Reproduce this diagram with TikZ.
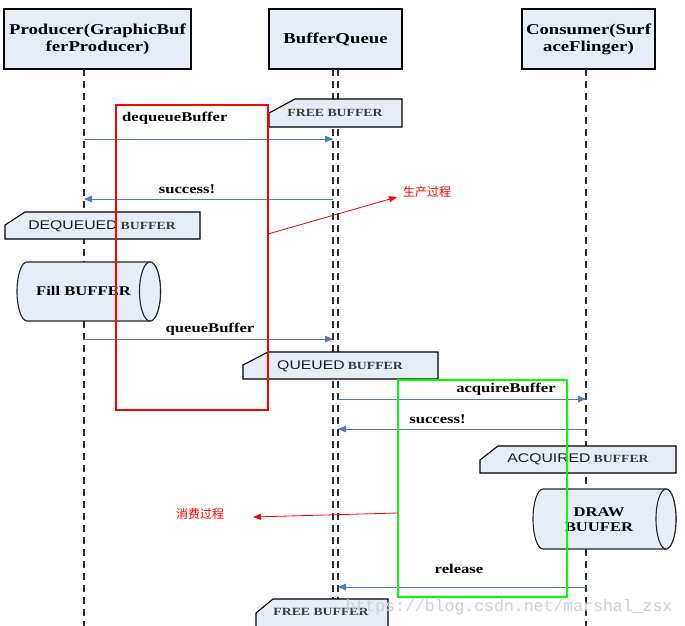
\documentclass[tikz,border=0pt]{standalone}
\usepackage{fontspec}
\setmainfont{Liberation Serif}[FakeStretch=1.25]
\newfontfamily\notesans{Liberation Sans}[FakeStretch=1.25]
\newfontfamily\cjk{Noto Sans CJK SC}
\newfontfamily\wmono{Liberation Mono}
\usetikzlibrary{arrows.meta}
\definecolor{boxfill}{HTML}{E7EDF7}
\definecolor{msgblue}{HTML}{4A7EBB}
\definecolor{notegray}{HTML}{3C3C3C}
\definecolor{sansdark}{HTML}{1E1E1E}
\definecolor{lifegray}{HTML}{2E2E2E}
\definecolor{wmgray}{HTML}{D0D0D0}
\definecolor{boxgreen}{HTML}{00FF00}
\tikzset{
  headbox/.style={draw=black, line width=1.1pt, fill=boxfill, minimum height=60pt,
    inner sep=0pt, align=center, font=\bfseries\fontsize{15}{17}\selectfont},
  lifeline/.style={lifegray, line width=1.3pt, dash pattern=on 7pt off 5pt},
  msg/.style={msgblue, line width=1pt, -{Triangle[length=8pt,width=6.5pt]}},
  msglabel/.style={inner sep=0pt, font=\bfseries\fontsize{13.3}{15}\selectfont},
  noteline/.style={draw=black, line width=1.1pt, fill=boxfill},
  notetext/.style={inner sep=0pt, text=notegray},
  cylline/.style={draw=black!85, line width=1.1pt, fill=boxfill},
  redframe/.style={draw=red, line width=2pt},
  greenframe/.style={draw=boxgreen, line width=2pt},
  annot/.style={red, line width=0.8pt, -{Triangle[length=8pt,width=6pt]}},
  annotlabel/.style={inner sep=0pt, text=red, font=\cjk\fontsize{12}{14}\selectfont},
}
\newcommand{\bigsans}[1]{{\color{sansdark}\notesans\fontsize{12.6}{14}\selectfont #1}}
\newcommand{\smallbuf}[1]{{\bfseries\fontsize{11}{13}\selectfont #1}}
\begin{document}
\begin{tikzpicture}[x=1pt,y=-1pt]
\useasboundingbox (0,0) rectangle (685,626);
\fill[white] (0,0) rectangle (685,626);

% header boxes
\node[headbox, minimum width=187pt] (prod) at (97.5,39) {Producer(GraphicBuf\\ferProducer)};
\node[headbox, minimum width=133pt] (bq) at (335.5,39) {BufferQueue};
\node[headbox, minimum width=133pt] (cons) at (588.5,39) {Consumer(Surf\\aceFlinger)};

% lifeline ends
\coordinate (ptop) at (84,69);   \coordinate (pbot) at (84,628);
\coordinate (qltop) at (333,69); \coordinate (qlbot) at (333,628);
\coordinate (qrtop) at (338,69); \coordinate (qrbot) at (338,628);
\coordinate (ctop) at (586,69);  \coordinate (cbot) at (586,628);
\draw[lifeline] (ptop) -- (pbot);
\draw[lifeline] (qltop) -- (qlbot);
\draw[lifeline] (qrtop) -- (qrbot);
\draw[lifeline] (ctop) -- (cbot);

% message anchor points
\coordinate (p1) at (84,139);  \coordinate (q1) at (333,139);
\coordinate (p2) at (84,199);  \coordinate (q2) at (333,199);
\coordinate (p3) at (84,339);  \coordinate (q3) at (333,339);
\coordinate (q4) at (338,399); \coordinate (c4) at (586,399);
\coordinate (q5) at (338,429); \coordinate (c5) at (586,429);
\coordinate (q6) at (338,587); \coordinate (c6) at (586,587);

\draw[msg] (p1) -- (q1);
\draw[msg] (q2) -- (p2);
\draw[msg] (p3) -- (q3);
\draw[msg] (q4) -- (c4);
\draw[msg] (c5) -- (q5);
\draw[msg] (c6) -- (q6);

\node[msglabel, anchor=west] (l1) at (122,118) {dequeueBuffer};
\node[msglabel] (l2) at (187,189) {success!};
\node[msglabel] (l3) at (210,329) {queueBuffer};
\node[msglabel] (l4) at (506,389) {acquireBuffer};
\node[msglabel] (l5) at (437.5,419) {success!};
\node[msglabel] (l6) at (459,569) {release};

% notes
\path[noteline] (269,113) -- (295,99) -- (402,99) -- (402,127) -- (269,127) -- cycle;
\node[notetext] (free1) at (335,113) {\smallbuf{FREE BUFFER}};

\path[noteline] (5,225) -- (25,212) -- (200,212) -- (200,239) -- (5,239) -- cycle;
\node[notetext] (deq) at (102,226) {\bigsans{DEQUEUED} \smallbuf{BUFFER}};

\path[noteline] (243,365) -- (268,352) -- (438,352) -- (438,379) -- (243,379) -- cycle;
\node[notetext] (que) at (340,366) {\bigsans{QUEUED} \smallbuf{BUFFER}};

\path[noteline] (480,460) -- (498,446) -- (676,446) -- (676,473) -- (480,473) -- cycle;
\node[notetext] (acq) at (578,459.5) {\bigsans{ACQUIRED} \smallbuf{BUFFER}};

\path[noteline] (256,613) -- (273,599) -- (388,599) -- (388,632) -- (256,632) -- cycle;
\node[notetext] (free2) at (321,612) {\smallbuf{FREE BUFFER}};

% cylinders
\path[cylline] (150,262) -- (27,262) arc[start angle=270, end angle=90, x radius=10, y radius=29.5]
  -- (150,321) arc[start angle=90, end angle=-90, x radius=10.5, y radius=29.5] -- cycle;
\draw[cylline] (150,291.5) ellipse[x radius=10.5, y radius=29.5];
\node[msglabel] (fill) at (83.5,291) {Fill BUFFER};

\path[cylline] (666,489) -- (543,489) arc[start angle=270, end angle=90, x radius=10, y radius=30]
  -- (666,549) arc[start angle=90, end angle=-90, x radius=10, y radius=30] -- cycle;
\draw[cylline] (666,519) ellipse[x radius=10, y radius=30];
\node[msglabel, align=center] (draw) at (599,519.5) {DRAW\\BUUFER};

% process frames
\draw[redframe] (116,105) rectangle (268,410);
\draw[greenframe] (398,380) rectangle (567,597);

\coordinate (ra) at (268,234); \coordinate (rb) at (397,197);
\draw[annot] (ra) -- (rb);
\node[annotlabel, anchor=west] (prodlbl) at (403,192) {生产过程};

\coordinate (ga) at (398,513); \coordinate (gb) at (253,517);
\draw[annot] (ga) -- (gb);
\node[annotlabel] (conslbl) at (200,514) {消费过程};

% watermark (overlaps the bottom note as in the reference)
\node[inner sep=0pt, text=wmgray, font=\wmono\fontsize{16.5}{18}\selectfont] (wm) at (509,607) {https://blog.csdn.net/marshal\_zsx};
\end{tikzpicture}
\end{document}
